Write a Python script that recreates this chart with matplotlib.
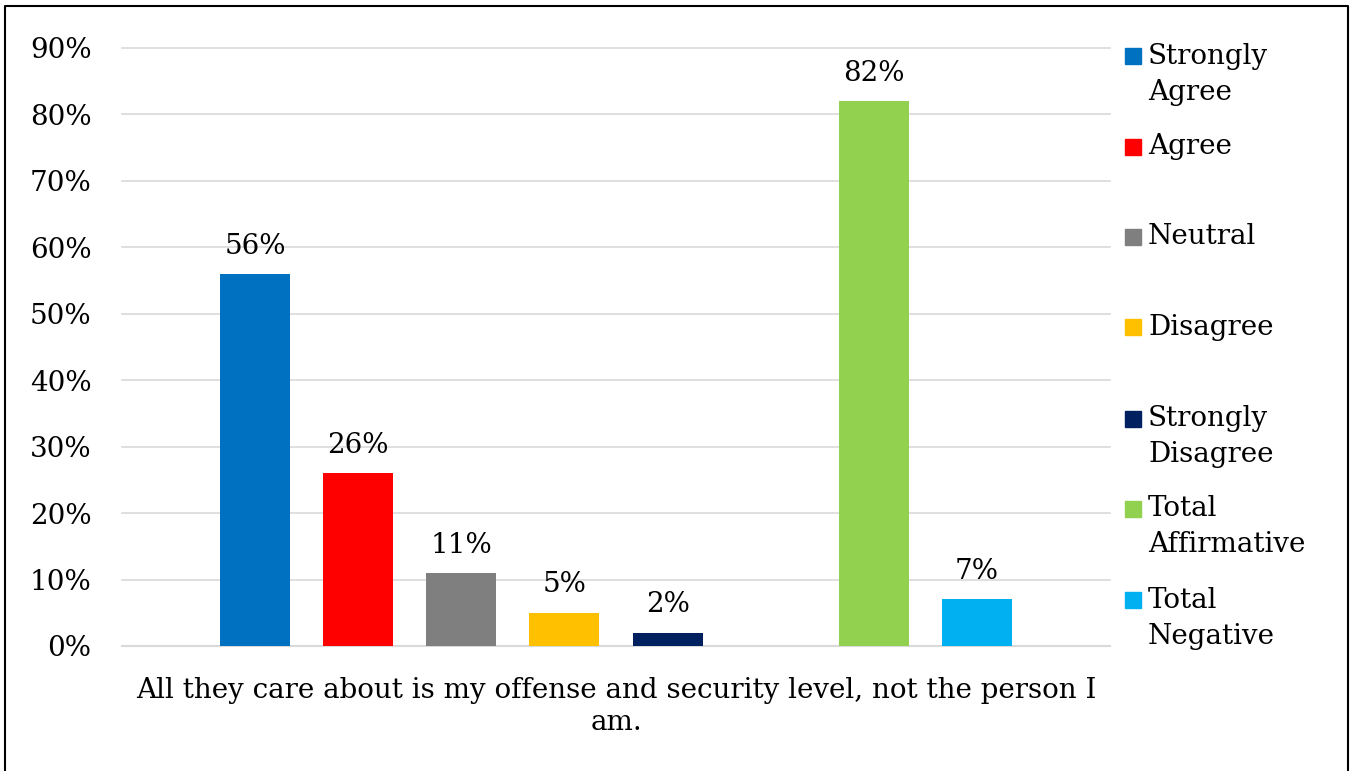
import matplotlib
matplotlib.use("Agg")
import matplotlib.pyplot as plt
import numpy as np
from matplotlib.patches import Rectangle
from matplotlib.lines import Line2D

categories = ["Strongly\nAgree", "Agree", "Neutral", "Disagree",
              "Strongly\nDisagree", "Total\nAffirmative", "Total\nNegative"]
values = [56, 26, 11, 5, 2, 82, 7]
colors = ["#0070C0", "#FF0000", "#7F7F7F", "#FFC000", "#002060", "#92D050", "#00B0F0"]
yticks = [0, 10, 20, 30, 40, 50, 60, 70, 80, 90]
category_label = "All they care about is my offense and security level, not the person I\nam."

FONT = "DejaVu Serif"
FS = 20

W, H = 1351, 771
fig = plt.figure(figsize=(W / 100, H / 100), dpi=100)
ax = fig.add_axes([122 / W, 1 - 646 / H, (1110 - 122) / W, (646 - 48) / H])

# positions: a blank slot between the first five bars and the totals
pos = [i if i < 5 else i + 1 for i in range(len(values))]
bw = 70 / 103
for p, v, c in zip(pos, values, colors):
    ax.bar(p, v, width=bw, color=c, zorder=3)
    ax.annotate(f"{v}%", xy=(p, v), xytext=(0, 20), textcoords="offset points",
                ha="center", va="center", fontsize=FS, family=FONT, color="#000000")

ax.set_xlim(-1.29, 8.29)
ax.set_ylim(0, 90)
ax.set_yticks(yticks)
ax.set_yticklabels([f"{t}%" for t in yticks], fontsize=FS, family=FONT)
ax.tick_params(axis="y", length=0, pad=22)
ax.set_xticks([3.5])
ax.set_xticklabels([category_label], fontsize=FS, family=FONT, linespacing=1.25)
ax.tick_params(axis="x", length=0, pad=22)
ax.grid(axis="y", color="#D9D9D9", linewidth=1.2, zorder=0)
for gl in ax.get_ygridlines():
    gl.set_clip_on(False)
ax.set_axisbelow(True)
for s in ["left", "right", "top"]:
    ax.spines[s].set_visible(False)
ax.spines["bottom"].set_color("#D9D9D9")
ax.spines["bottom"].set_linewidth(1.5)

# legend drawn manually to mimic Excel's evenly spaced entries
first_line_y = [56, 147, 237, 327, 419, 509, 600]
for lab, c, y in zip(categories, colors, first_line_y):
    fig.patches.append(Rectangle(((1125) / W, 1 - (y + 8) / H), 16 / W, 16 / H,
                                 transform=fig.transFigure, color=c))
    for k, line in enumerate(lab.split("\n")):
        fig.text(1148 / W, 1 - (y + 36 * k) / H, line, fontsize=FS, family=FONT,
                 ha="left", va="center")

# outer frame
fig.lines.append(Line2D([5 / W, 5 / W, 1348 / W, 1348 / W], [0, 1 - 6 / H, 1 - 6 / H, 0],
                        transform=fig.transFigure, color="black", linewidth=1.5))

fig.savefig("out.png", dpi=100)
